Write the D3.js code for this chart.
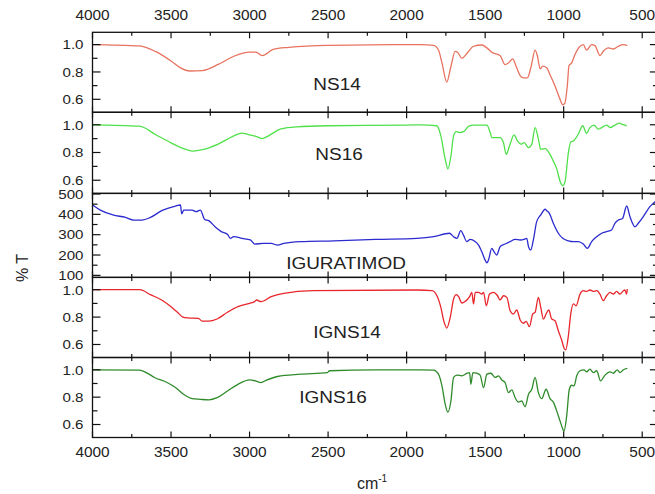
<!DOCTYPE html>
<html>
<head>
<meta charset="utf-8">
<script src="https://cdn.jsdelivr.net/npm/d3@7"></script>
<style>
  html, body { margin: 0; padding: 0; background: #fff; }
  svg { display: block; }
  text { font-family: "Liberation Sans", Arial, sans-serif; fill: #222; }
</style>
</head>
<body>
<svg id="chart" width="655" height="494"></svg>
<script>
// FTIR spectra: [wavenumber (cm-1), transmittance]
const ns14 = [
  [4000,1.0],[3700,0.99],[3600,0.95],[3500,0.88],[3440,0.83],[3380,0.807],[3300,0.81],[3200,0.855],
  [3100,0.915],[3000,0.945],[2960,0.945],[2920,0.92],[2850,0.965],[2750,0.98],[2500,0.995],[2000,1.0],
  [1913,1.0],[1828,0.995],[1797,0.96],[1775,0.866],[1744,0.726],[1718,0.84],[1691,0.95],[1676,0.944],
  [1648,0.90],[1616,0.935],[1574,0.988],[1521,0.997],[1489,0.976],[1458,0.944],[1405,0.92],[1373,0.854],
  [1352,0.866],[1324,0.896],[1303,0.842],[1277,0.774],[1256,0.757],[1231,0.757],[1207,0.842],[1182,0.959],
  [1167,0.915],[1150,0.823],[1133,0.842],[1108,0.83],[1087,0.78],[1055,0.697],[1027,0.612],[1006,0.56],
  [993,0.57],[977,0.697],[966,0.847],[949,0.866],[928,0.927],[900,0.983],[875,1.0],[854,0.959],
  [822,1.0],[801,0.993],[769,0.92],[748,0.951],[716,0.976],[684,0.968],[652,0.988],[620,1.0],[595,0.993]
];
const ns16 = [
  [4000,1.0],[3700,0.99],[3600,0.93],[3500,0.87],[3400,0.82],[3360,0.81],[3300,0.82],[3200,0.86],
  [3100,0.92],[3050,0.94],[3000,0.927],[2950,0.913],[2920,0.90],[2880,0.92],[2800,0.97],[2700,0.985],
  [2500,0.993],[2000,0.998],[1913,1.0],[1807,0.993],[1782,0.92],[1754,0.75],[1737,0.682],[1718,0.774],
  [1701,0.92],[1684,0.95],[1663,0.944],[1638,0.95],[1606,0.988],[1574,0.998],[1489,0.998],[1468,0.944],
  [1458,0.908],[1405,0.908],[1383,0.87],[1366,0.786],[1345,0.847],[1316,0.927],[1294,0.883],[1273,0.86],
  [1252,0.871],[1224,0.835],[1203,0.859],[1182,0.98],[1161,0.896],[1146,0.823],[1118,0.828],[1087,0.786],
  [1066,0.738],[1044,0.682],[1023,0.592],[1006,0.56],[991,0.592],[970,0.80],[955,0.876],[938,0.883],
  [907,0.932],[879,0.993],[854,0.939],[833,0.98],[807,0.998],[780,0.968],[758,0.98],[727,0.998],
  [705,0.98],[674,0.998],[642,1.012],[631,1.005],[599,0.993]
];
const iguratimod = [
  [4000,446],[3950,421],[3870,397],[3790,385],[3737,372],[3684,372],[3631,385],[3552,421],[3472,441],
  [3440,446],[3432,402],[3419,421],[3366,421],[3340,413],[3313,421],[3286,375],[3260,369],[3220,339],
  [3180,315],[3141,302],[3122,282],[3101,290],[3048,282],[2995,274],[2968,254],[2915,257],[2862,257],
  [2822,249],[2782,257],[2676,266],[2464,270],[2199,277],[1934,282],[1828,290],[1727,307],[1701,290],
  [1680,282],[1655,320],[1638,298],[1617,266],[1595,277],[1564,266],[1542,249],[1521,216],[1500,175],
  [1489,162],[1479,175],[1458,233],[1443,216],[1426,200],[1405,241],[1373,254],[1341,266],[1309,277],
  [1277,274],[1252,277],[1235,282],[1224,241],[1210,225],[1193,274],[1172,364],[1146,397],[1118,425],
  [1108,418],[1091,405],[1066,356],[1034,307],[1006,282],[970,270],[938,266],[907,266],[875,254],
  [849,233],[822,266],[790,290],[758,307],[727,315],[695,323],[674,356],[652,372],[625,380],[599,441],
  [578,389],[546,339],[525,356],[493,389],[451,438],[430,454],[405,470]
];
const igns14 = [
  [4000,1.0],[3700,1.0],[3631,0.964],[3552,0.92],[3500,0.876],[3459,0.835],[3424,0.80],[3393,0.794],
  [3326,0.79],[3300,0.77],[3260,0.77],[3207,0.786],[3141,0.835],[3074,0.876],[3000,0.90],[2968,0.913],
  [2955,0.925],[2928,0.913],[2862,0.949],[2782,0.973],[2597,0.993],[1934,0.998],[1839,0.993],[1807,0.956],
  [1782,0.871],[1761,0.762],[1744,0.72],[1722,0.80],[1701,0.932],[1684,0.964],[1669,0.949],[1648,0.903],
  [1627,0.915],[1599,0.949],[1585,0.981],[1574,0.896],[1563,0.981],[1542,0.981],[1521,0.968],[1510,0.981],
  [1493,0.883],[1472,0.968],[1447,0.981],[1421,0.956],[1405,0.925],[1383,0.956],[1362,0.944],[1341,0.847],
  [1320,0.823],[1299,0.852],[1277,0.779],[1256,0.755],[1239,0.769],[1218,0.73],[1197,0.823],[1182,0.835],
  [1161,0.944],[1146,0.871],[1129,0.786],[1112,0.823],[1095,0.852],[1076,0.786],[1055,0.774],[1034,0.70],
  [1012,0.629],[998,0.575],[987,0.561],[970,0.665],[955,0.823],[938,0.896],[921,0.883],[896,0.968],
  [875,0.993],[854,0.988],[833,0.998],[811,0.988],[790,0.993],[769,0.968],[748,0.92],[727,0.956],
  [705,0.981],[684,0.968],[663,0.988],[642,0.968],[620,0.993],[610,0.998],[599,0.968],[595,1.005]
];
const igns16 = [
  [4000,1.0],[3700,0.998],[3658,0.98],[3605,0.944],[3525,0.907],[3472,0.87],[3419,0.82],[3366,0.79],
  [3313,0.784],[3260,0.78],[3207,0.796],[3141,0.845],[3074,0.894],[3000,0.926],[2963,0.919],[2928,0.907],
  [2889,0.926],[2822,0.951],[2676,0.968],[2504,0.98],[2491,0.993],[2199,1.0],[1913,1.0],[1828,0.998],
  [1797,0.968],[1775,0.882],[1754,0.747],[1737,0.69],[1718,0.772],[1701,0.944],[1680,0.961],[1648,0.956],
  [1616,0.975],[1599,0.98],[1591,0.894],[1578,0.98],[1553,0.975],[1532,0.961],[1510,0.87],[1489,0.968],
  [1464,0.975],[1436,0.944],[1415,0.956],[1394,0.926],[1373,0.907],[1352,0.833],[1330,0.853],[1309,0.796],
  [1288,0.764],[1267,0.772],[1246,0.73],[1224,0.821],[1203,0.858],[1182,0.944],[1161,0.833],[1140,0.789],
  [1112,0.858],[1087,0.789],[1066,0.764],[1044,0.698],[1023,0.625],[1006,0.568],[998,0.551],[981,0.661],
  [964,0.858],[949,0.887],[934,0.882],[917,0.956],[896,0.993],[871,1.0],[854,0.985],[833,1.005],
  [811,0.98],[790,0.993],[765,0.919],[737,0.961],[705,0.985],[684,0.975],[659,1.0],[642,0.98],
  [620,1.0],[595,1.01]
];

const sampleNames = ["NS14", "NS16", "IGURATIMOD", "IGNS14", "IGNS16"];
const spectra = [ns14, ns16, iguratimod, igns14, igns16];

// Tick values
const xMajorTicks = [4000, 3500, 3000, 2500, 2000, 1500, 1000, 500];
const xMinorTicks = [3750, 3250, 2750, 2250, 1750, 1250, 750];
const tMajorTicks = [1.0, 0.8, 0.6];
const tMinorTicks = [0.9, 0.7];
const iMajorTicks = [500, 400, 300, 200, 100];
const iMinorTicks = [450, 350, 250, 150];

// ---- layout & style ----
const lineColors = ["#e8725f", "#4fe04a", "#2b2bcf", "#e8262b", "#2e8b2a"];
const panelEdges = [32.3, 112.3, 193.4, 277.4, 357.5, 437.5];
const plotLeft = 92.5;
const pxPerWn = 0.15706;
const labelPos = [
  { x: 337, y: 90 }, { x: 339, y: 160 }, { x: 346, y: 269 }, { x: 347, y: 338 }, { x: 333, y: 403 }
];

const svg = d3.select("#chart");
const x = d3.scaleLinear().domain([4000, 400]).range([plotLeft, plotLeft + 3600 * pxPerWn]);
const xL = x.range()[0], xR = x.range()[1];

// text slightly widened, as in the original plotting software export
const wideText = (sel, px, py, sx) => sel.attr("transform", `translate(${px},${py}) scale(${sx},1)`);

spectra.forEach((data, i) => {
  const top = panelEdges[i], bottom = panelEdges[i + 1];
  const isIgu = i === 2;
  const y = d3.scaleLinear()
    .domain(isIgu ? [90, 503] : [0.505, 1.09])
    .range([bottom, top]);
  const g = svg.append("g");

  // spectrum
  const clipId = "clip" + i;
  svg.append("clipPath").attr("id", clipId)
    .append("rect").attr("x", xL).attr("y", top).attr("width", xR - xL).attr("height", bottom - top);
  g.append("path")
    .datum(data)
    .attr("clip-path", `url(#${clipId})`)
    .attr("fill", "none")
    .attr("stroke", lineColors[i])
    .attr("stroke-width", 1.3)
    .attr("stroke-linejoin", "round")
    .attr("d", d3.line().x(d => x(d[0])).y(d => y(d[1])).curve(d3.curveMonotoneX));

  // frame
  g.append("rect")
    .attr("x", xL).attr("y", top).attr("width", xR - xL).attr("height", bottom - top)
    .attr("fill", "none").attr("stroke", "#111").attr("stroke-width", 1.3);

  // x ticks (inward, top and bottom)
  const xt = (vals, len) => vals.forEach(v => {
    g.append("line").attr("x1", x(v)).attr("x2", x(v)).attr("y1", top).attr("y2", top + len)
      .attr("stroke", "#111").attr("stroke-width", 1.2);
    g.append("line").attr("x1", x(v)).attr("x2", x(v)).attr("y1", bottom).attr("y2", bottom - len)
      .attr("stroke", "#111").attr("stroke-width", 1.2);
  });
  xt(xMajorTicks, 6);
  xt(xMinorTicks, 3.5);

  // y ticks (inward, left and right)
  const yt = (vals, len) => vals.forEach(v => {
    g.append("line").attr("x1", xL).attr("x2", xL + len).attr("y1", y(v)).attr("y2", y(v))
      .attr("stroke", "#111").attr("stroke-width", 1.2);
    g.append("line").attr("x1", xR).attr("x2", xR - len).attr("y1", y(v)).attr("y2", y(v))
      .attr("stroke", "#111").attr("stroke-width", 1.2);
  });
  const majors = isIgu ? iMajorTicks : tMajorTicks;
  yt(majors, 8);
  yt(isIgu ? iMinorTicks : tMinorTicks, 5);

  // y tick labels
  majors.forEach(v => {
    wideText(g.append("text"), xL - 9, y(v) + 4.8, 1.12)
      .attr("text-anchor", "end")
      .attr("font-size", 13.5)
      .text(isIgu ? d3.format("d")(v) : d3.format(".1f")(v));
  });

  // sample name
  wideText(g.append("text"), labelPos[i].x, labelPos[i].y, 1.15)
    .attr("text-anchor", "middle")
    .attr("font-size", 16.5)
    .text(sampleNames[i]);
});

// top and bottom wavenumber labels
xMajorTicks.forEach(v => {
  wideText(svg.append("text"), x(v), 20, 1.1).attr("text-anchor", "middle")
    .attr("font-size", 14).text(v);
  wideText(svg.append("text"), x(v), 457, 1.1).attr("text-anchor", "middle")
    .attr("font-size", 14).text(v);
});

// axis titles
const xTitle = svg.append("text").attr("x", 372).attr("y", 489)
  .attr("text-anchor", "middle").attr("font-size", 16);
xTitle.append("tspan").text("cm");
xTitle.append("tspan").attr("dy", -7).attr("font-size", 10).text("-1");

svg.append("text")
  .attr("transform", "translate(28,268) rotate(-90)")
  .attr("text-anchor", "middle").attr("font-size", 16)
  .text("% T");
</script>
</body>
</html>
